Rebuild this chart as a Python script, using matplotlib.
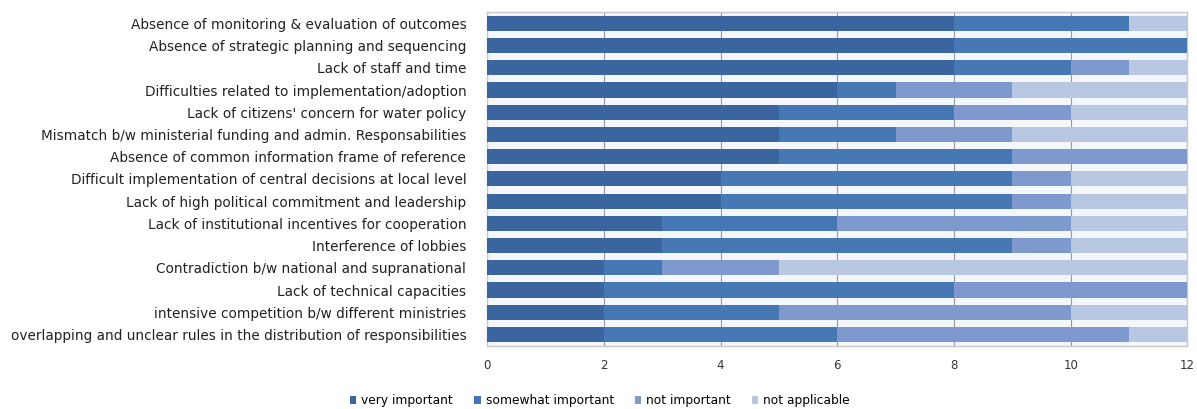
import matplotlib
matplotlib.use("Agg")
import matplotlib.pyplot as plt
import numpy as np

categories = [
    "Absence of monitoring & evaluation of outcomes",
    "Absence of strategic planning and sequencing",
    "Lack of staff and time",
    "Difficulties related to implementation/adoption",
    "Lack of citizens' concern for water policy",
    "Mismatch b/w ministerial funding and admin. Responsabilities",
    "Absence of common information frame of reference",
    "Difficult implementation of central decisions at local level",
    "Lack of high political commitment and leadership",
    "Lack of institutional incentives for cooperation",
    "Interference of lobbies",
    "Contradiction b/w national and supranational",
    "Lack of technical capacities",
    "intensive competition b/w different ministries",
    "overlapping and unclear rules in the distribution of responsibilities",
]
very_important     = [8, 8, 8, 6, 5, 5, 5, 4, 4, 3, 3, 2, 2, 2, 2]
somewhat_important = [3, 4, 2, 1, 3, 2, 4, 5, 5, 3, 6, 1, 6, 3, 4]
not_important      = [0, 0, 1, 2, 2, 2, 3, 1, 1, 4, 1, 2, 4, 5, 5]
not_applicable     = [1, 0, 1, 3, 2, 3, 0, 2, 2, 2, 2, 7, 0, 2, 1]
series_names = ["very important", "somewhat important", "not important", "not applicable"]
x_ticks = [0, 2, 4, 6, 8, 10, 12]

colors = ["#3A659F", "#4678B6", "#7D99CD", "#B8C7E2"]

plt.rcParams['font.family'] = ['DejaVu Sans']
fig = plt.figure(figsize=(11.97, 4.09), dpi=100)
ax = fig.add_axes([0.407, 0.155, 0.585, 0.815])

y = np.arange(len(categories))
left = np.zeros(len(categories))
series = [very_important, somewhat_important, not_important, not_applicable]
for name, vals, c in zip(series_names, series, colors):
    vals = np.array(vals, dtype=float)
    ax.barh(y, vals, left=left, height=0.68, color=c, label=name, zorder=3,
            edgecolor='none')
    left += vals

ax.set_ylim(len(categories) - 0.5, -0.5)
ax.set_xlim(0, 12)
ax.set_xticks(x_ticks)
ax.set_xticklabels([str(t) for t in x_ticks], fontsize=8.5, color="#333333")
ax.set_yticks(y)
ax.set_yticklabels(categories, fontsize=9.8, color="#222222")
ax.tick_params(axis='both', length=0)
ax.tick_params(axis='x', pad=10)
ax.tick_params(axis='y', pad=15)
ax.xaxis.grid(True, color="#9a9a9a", linewidth=0.8, zorder=1)
ax.set_facecolor("#F3F6FB")
for s in ax.spines.values():
    s.set_color("#C8C8C8")
    s.set_linewidth(1.0)

fig.legend(loc='center left', bbox_to_anchor=(0.283, 0.02), ncol=4, frameon=False,
           fontsize=8.8, handlelength=0.55, handleheight=0.55, handletextpad=0.4,
           columnspacing=1.7)

fig.savefig("out.png", dpi=100)
